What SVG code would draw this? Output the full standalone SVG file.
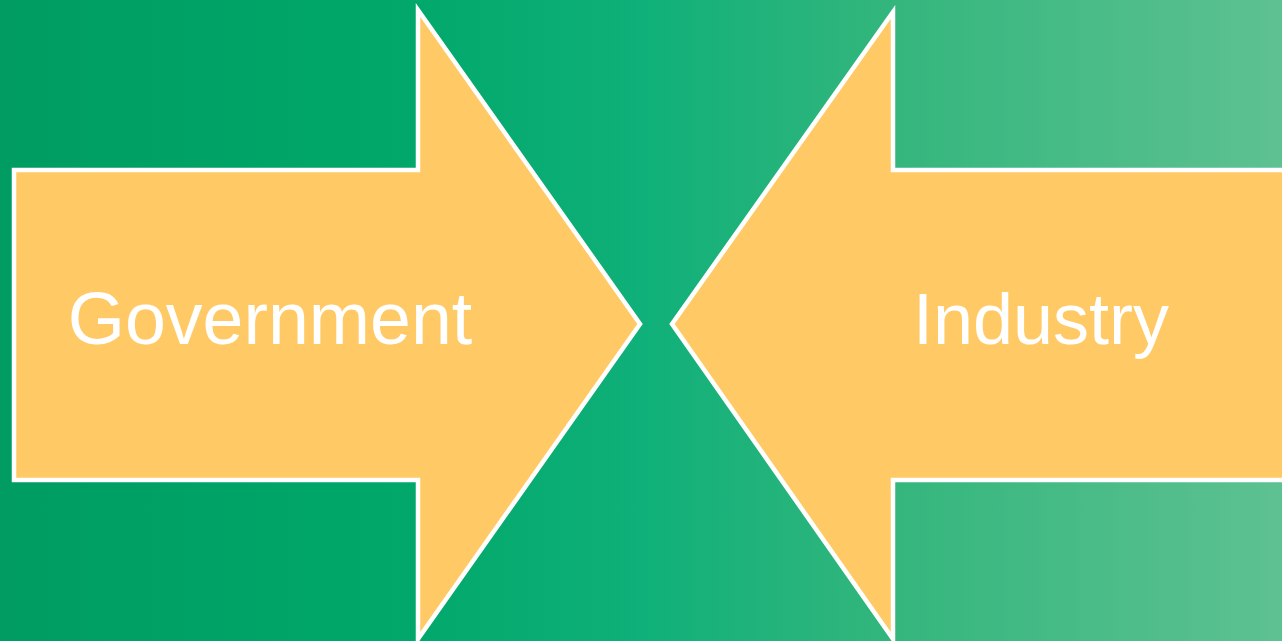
<svg xmlns="http://www.w3.org/2000/svg" width="1282" height="641" viewBox="0 0 1282 641">
<defs>
<linearGradient id="bg" x1="0" y1="0" x2="1" y2="0">
<stop offset="0" stop-color="#009c62"/>
<stop offset="0.3" stop-color="#00a769"/>
<stop offset="0.5" stop-color="#0fb079"/>
<stop offset="0.7" stop-color="#34b67d"/>
<stop offset="1" stop-color="#5ec192"/>
</linearGradient>
<style>
.arrow{fill:#ffca66;stroke:#ffffff;stroke-width:4.5;stroke-linejoin:miter}
.lbl{font-family:"Liberation Sans",Arial,sans-serif;font-size:72px;fill:#ffffff;text-anchor:middle}
</style>
</defs>
<rect x="0" y="0" width="1282" height="641" fill="url(#bg)"/>
<g id="government">
<polygon class="arrow" points="14,170 418,170 418,10 640,324 418,639 418,480 14,480"/>
<text class="lbl" x="270" y="344" style="font-size:73.5px">Government</text>
</g>
<g id="industry">
<polygon class="arrow" points="1290,170 893,170 893,12 672,324 893,639 893,480 1290,480"/>
<text class="lbl" x="1041" y="344">Industry</text>
</g>
<g id="connectors"></g>
</svg>
